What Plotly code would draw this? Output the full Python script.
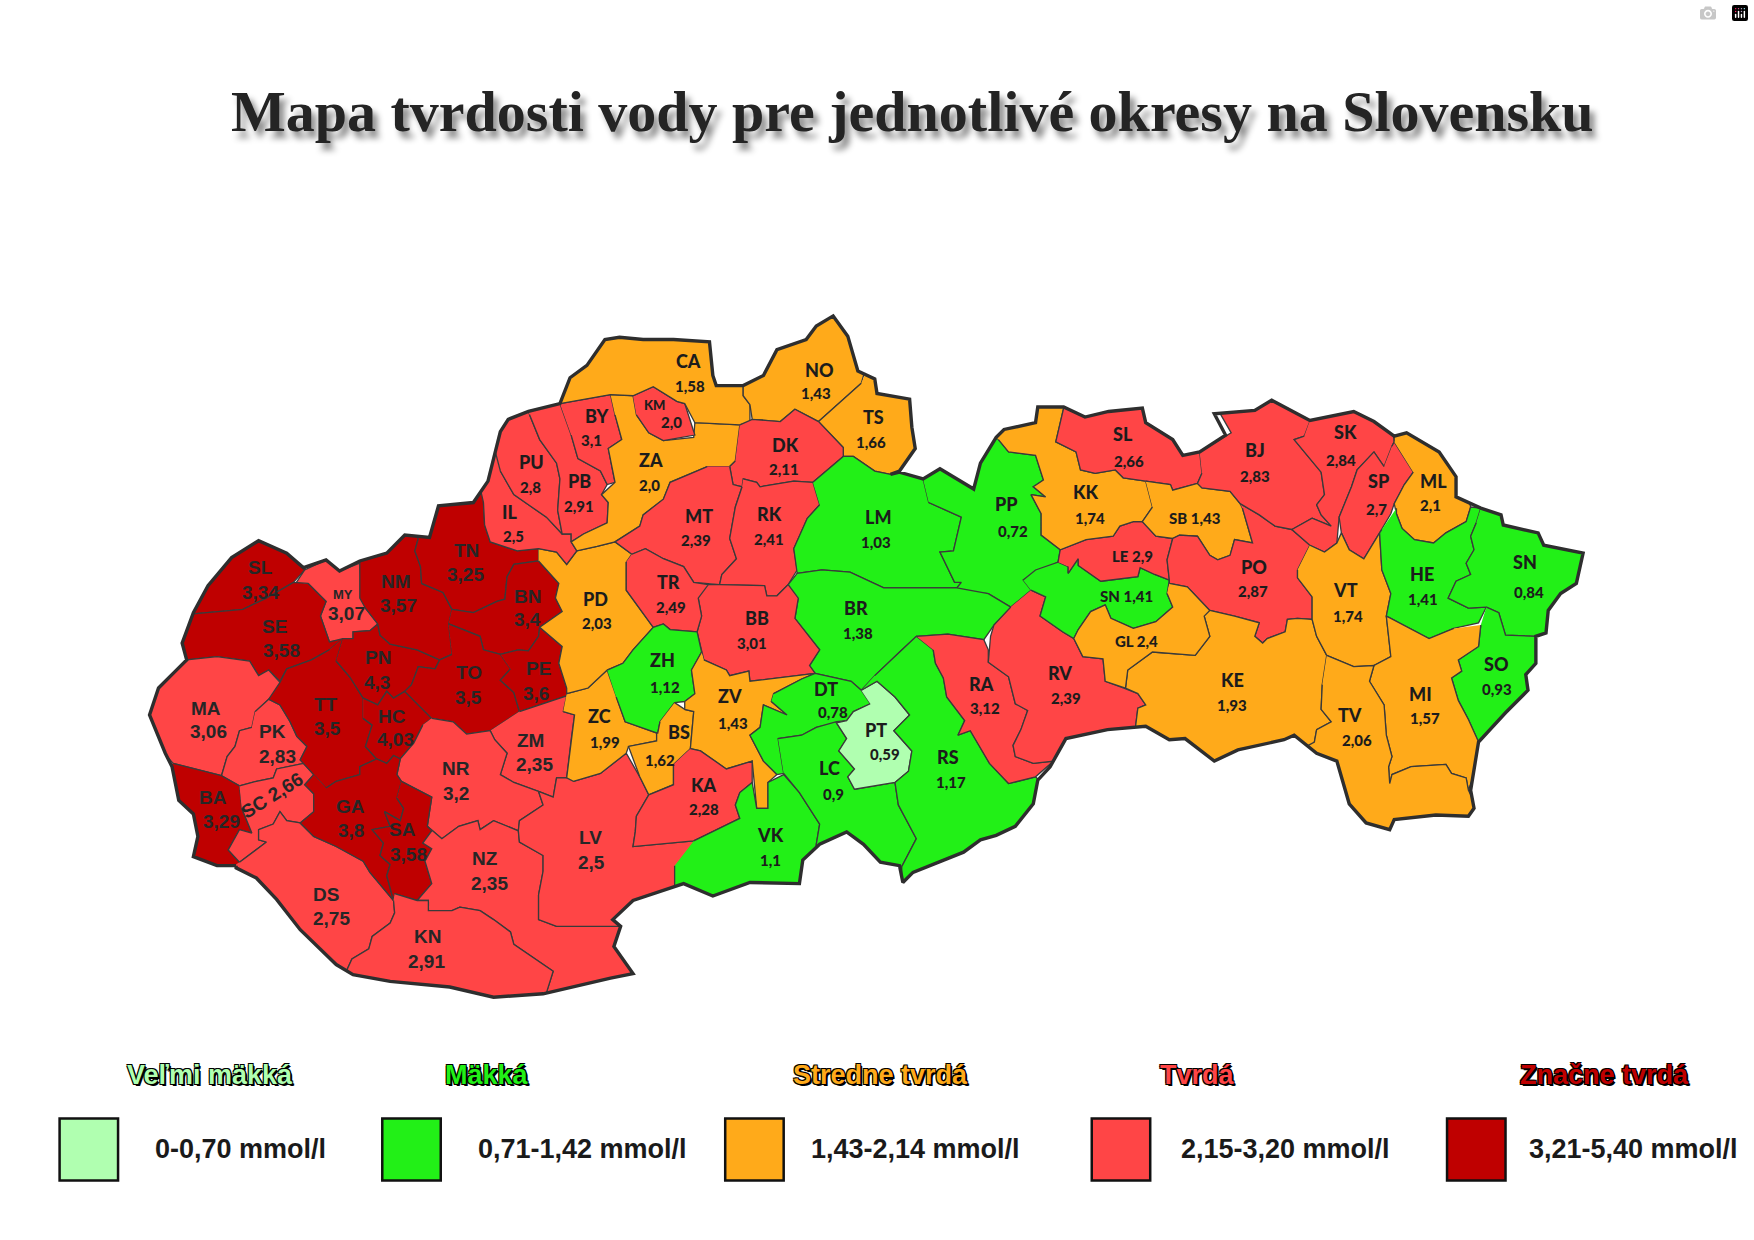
import plotly.graph_objects as go

# mapa je v suradniciach obrazka (x doprava, y dole)
W, H = 1560, 1103

title = "Mapa tvrdosti vody pre jednotlivé okresy na Slovensku"
class_names = ["Veľmi mäkká", "Mäkká", "Stredne tvrdá", "Tvrdá", "Značne tvrdá"]
class_ranges = ["0-0,70 mmol/l", "0,71-1,42 mmol/l", "1,43-2,14 mmol/l", "2,15-3,20 mmol/l", "3,21-5,40 mmol/l"]
class_colors = ["#B0FFB0", "#22F017", "#FFAA1A", "#FF4546", "#BF0000"]

ids = ["SLw", "MY", "SE", "MA", "PK", "BA", "SC", "DS", "TT", "PN", "HC", "NM", "TN", "BN", "TO", "PE",
       "ZM", "NR", "GA", "SA", "NZ", "KN", "LV", "ZC", "PD", "IL", "PU", "PB", "BY", "ZA", "KM", "CA",
       "NO", "TS", "DK", "MT", "RK", "LM", "PP", "BR", "BB", "TR", "ZH", "BS", "ZV", "KA", "VK", "DT",
       "LC", "PT", "RS", "RA", "RV", "SNw", "LE", "KK", "SLe", "SB", "PO", "KE", "GL", "BJ", "SK", "SP",
       "VT", "ML", "HE", "SNe", "SO", "MI", "TV"]
codes = ["SL", "MY", "SE", "MA", "PK", "BA", "SC", "DS", "TT", "PN", "HC", "NM", "TN", "BN", "TO", "PE",
         "ZM", "NR", "GA", "SA", "NZ", "KN", "LV", "ZC", "PD", "IL", "PU", "PB", "BY", "ZA", "KM", "CA",
         "NO", "TS", "DK", "MT", "RK", "LM", "PP", "BR", "BB", "TR", "ZH", "BS", "ZV", "KA", "VK", "DT",
         "LC", "PT", "RS", "RA", "RV", "SN", "LE", "KK", "SL", "SB", "PO", "KE", "GL", "BJ", "SK", "SP",
         "VT", "ML", "HE", "SN", "SO", "MI", "TV"]
values = ["3,34", "3,07", "3,58", "3,06", "2,83", "3,29", "2,66", "2,75", "3,5", "4,3", "4,03", "3,57", "3,25", "3,4", "3,5", "3,6",
          "2,35", "3,2", "3,8", "3,58", "2,35", "2,91", "2,5", "1,99", "2,03", "2,5", "2,8", "2,91", "3,1", "2,0", "2,0", "1,58",
          "1,43", "1,66", "2,11", "2,39", "2,41", "1,03", "0,72", "1,38", "3,01", "2,49", "1,12", "1,62", "1,43", "2,28", "1,1", "0,78",
          "0,9", "0,59", "1,17", "3,12", "2,39", "1,41", "2,9", "1,74", "2,66", "1,43", "2,87", "1,93", "2,4", "2,83", "2,84", "2,7",
          "1,74", "2,1", "1,41", "0,84", "0,93", "1,57", "2,06"]
# trieda tvrdosti podla farby na mape
classes = [4, 3, 4, 3, 3, 4, 3, 3, 4, 4, 4, 4, 4, 4, 4, 4,
           3, 3, 4, 4, 3, 3, 3, 2, 2, 3, 3, 3, 3, 2, 3, 2,
           2, 2, 3, 3, 3, 1, 1, 1, 3, 3, 1, 2, 2, 3, 1, 1,
           1, 0, 1, 3, 3, 1, 3, 2, 3, 2, 3, 2, 2, 3, 3, 3,
           2, 2, 1, 1, 1, 2, 2]

# hranice okresov, zvonku presahuju cez obrys (ten ich oreze)
outlines = {
    "SLw": [(172,546),(216,542),(237,532),(261,518),(271,507),(271,470),(200,470),(160,525)],
    "MY": [(263,519),(271,507),(290,498),(302,508),(320,501),(322,532),(325,541),(336,555),(329,561),(314,562),(314,568),(293,571),(285,548),(290,535),(274,519)],
    "SE": [(172,546),(216,542),(237,532),(261,518),(274,519),(290,535),(285,548),(293,571),(305,568),(293,578),(277,587),(255,595),(249,606),(239,596),(230,601),(222,588),(193,584),(166,587),(150,560)],
    "MA": [(166,587),(193,584),(222,588),(230,601),(239,596),(249,607),(249,612),(239,622),(227,633),(224,647),(213,650),(209,664),(202,673),(197,690),(154,679),(120,640),(150,590)],
    "PK": [(227,633),(239,622),(249,627),(258,642),(264,655),(273,664),(267,676),(270,679),(246,684),(243,692),(228,695),(213,699),(197,690),(202,673),(209,664),(213,650),(224,647)],
    "BA": [(154,679),(197,690),(213,699),(215,719),(224,741),(213,738),(203,756),(213,767),(210,780),(170,775),(150,720),(140,685)],
    "SC": [(213,699),(228,695),(243,692),(246,684),(270,679),(279,689),(271,698),(279,706),(279,722),(267,732),(255,730),(249,722),(243,733),(230,738),(230,747),(237,749),(213,767),(203,756),(213,738),(224,741),(215,719)],
    "DS": [(213,767),(237,749),(230,747),(230,738),(243,733),(249,722),(255,730),(267,732),(279,744),(299,753),(323,766),(329,776),(350,801),(351,812),(347,821),(331,833),(328,844),(313,853),(308,864),(295,875),(240,810),(200,775)],
    "TT": [(305,568),(299,588),(311,602),(323,621),(323,639),(331,645),(325,664),(335,675),(320,682),(320,689),(299,695),(290,701),(279,689),(270,679),(267,676),(273,664),(264,655),(258,642),(249,627),(239,622),(249,607),(255,595),(277,587),(293,578)],
    "PN": [(305,568),(314,568),(314,562),(329,561),(336,555),(338,565),(347,573),(371,578),(391,587),(387,595),(372,593),(366,609),(360,615),(350,621),(344,615),(336,627),(323,621),(311,602),(299,588)],
    "HC": [(323,621),(336,627),(344,615),(350,621),(360,615),(384,639),(376,645),(368,661),(356,675),(350,672),(344,679),(335,675),(325,664),(331,645),(323,639)],
    "NM": [(320,490),(320,532),(325,541),(336,555),(338,565),(347,573),(371,578),(391,587),(402,582),(399,555),(402,542),(394,527),(375,519),(374,504),(369,490),(372,479),(360,465)],
    "TN": [(372,479),(369,490),(374,504),(375,519),(394,527),(402,542),(421,545),(442,535),(449,533),(451,513),(457,502),(479,499),(479,488),(460,490),(436,482),(431,467),(430,447),(434,425),(390,435),(360,465)],
    "BN": [(402,542),(421,545),(442,535),(449,533),(451,513),(457,502),(479,499),(497,519),(494,532),(500,544),(480,558),(479,566),(470,579),(461,578),(445,582),(430,578),(427,566),(399,555)],
    "TO": [(399,555),(427,566),(430,578),(445,582),(454,595),(445,605),(457,616),(462,633),(436,650),(415,653),(403,642),(384,639),(360,615),(366,609),(372,593),(387,595),(391,587),(402,582)],
    "PE": [(445,582),(461,578),(470,579),(479,566),(480,558),(500,575),(497,590),(504,612),(504,619),(480,627),(462,633),(457,616),(445,605),(454,595)],
    "ZM": [(462,633),(480,627),(504,619),(501,633),(511,636),(508,658),(504,692),(495,692),(492,709),(479,704),(457,696),(445,689),(451,670),(440,658),(436,650)],
    "NR": [(384,639),(403,642),(415,653),(436,650),(440,658),(451,670),(445,689),(457,696),(479,704),(483,716),(462,730),(461,739),(439,730),(427,738),(425,730),(408,735),(393,746),(380,735),(384,709),(357,695),(353,689),(356,675),(368,661),(376,645)],
    "GA": [(290,701),(299,695),(320,689),(320,682),(335,675),(344,679),(350,672),(356,675),(353,689),(357,695),(353,710),(359,719),(356,730),(342,722),(347,735),(331,738),(341,750),(338,761),(347,769),(344,779),(350,801),(329,776),(323,766),(299,753),(279,744),(267,732),(279,722),(279,706),(271,698),(279,689)],
    "SA": [(357,695),(384,709),(380,735),(384,739),(376,750),(384,755),(378,766),(384,786),(371,801),(351,795),(350,801),(344,779),(347,769),(338,761),(341,750),(331,738),(347,735),(342,722),(356,730),(359,719),(353,710)],
    "NZ": [(380,735),(393,746),(408,735),(425,730),(427,738),(439,730),(461,739),(462,749),(483,761),(483,775),(479,796),(479,818),(495,824),(552,824),(546,842),(563,866),(570,880),(490,895),(486,883),(492,864),(457,840),(454,829),(439,818),(427,810),(409,807),(402,810),(381,810),(381,801),(371,801),(384,786),(378,766),(384,755),(376,750),(384,739)],
    "KN": [(351,795),(371,801),(381,801),(381,810),(402,810),(409,807),(427,810),(439,818),(454,829),(457,840),(492,864),(486,883),(490,900),(300,885),(295,875),(308,864),(313,853),(328,844),(331,833),(347,821),(351,812),(350,801)],
    "LV": [(504,692),(495,692),(492,709),(479,704),(483,716),(462,730),(461,739),(462,749),(483,761),(483,775),(479,796),(479,818),(495,824),(552,824),(575,815),(608,786),(620,758),(617,748),(563,753),(565,740),(566,726),(577,707),(569,691),(557,670),(534,688),(510,695)],
    "ZC": [(504,617),(523,612),(540,596),(548,620),(556,642),(584,652),(584,659),(559,664),(557,670),(534,688),(510,695),(504,692),(508,658),(511,636),(501,633)],
    "PD": [(479,488),(495,491),(504,502),(513,490),(531,486),(547,482),(562,493),(557,500),(557,525),(581,558),(563,578),(554,590),(540,596),(523,612),(504,617),(504,612),(497,590),(500,575),(480,558),(500,544),(494,532),(497,519),(479,499)],
    "IL": [(445,419),(457,440),(470,449),(486,460),(500,475),(508,475),(508,482),(513,490),(504,502),(495,491),(479,488),(460,490),(436,482),(431,467),(430,447),(425,425),(440,400)],
    "PU": [(470,366),(471,369),(480,391),(495,412),(498,426),(496,454),(500,475),(486,460),(470,449),(457,440),(445,419),(440,400),(435,385),(450,360)],
    "PB": [(470,366),(498,359),(508,387),(514,408),(534,419),(540,431),(535,440),(541,447),(540,465),(519,475),(508,482),(508,475),(500,475),(496,454),(498,426),(495,412),(480,391),(471,369)],
    "BY": [(498,359),(543,351),(547,369),(553,391),(541,399),(547,429),(540,431),(534,419),(514,408),(508,387)],
    "ZA": [(543,351),(563,352),(566,369),(577,385),(590,392),(617,389),(618,376),(658,378),(654,410),(649,415),(629,415),(596,429),(590,444),(572,458),(569,468),(547,482),(531,486),(513,490),(508,482),(519,475),(540,465),(541,447),(535,440),(547,429),(541,399),(553,391),(547,369)],
    "KM": [(563,352),(581,344),(602,357),(609,359),(618,387),(590,392),(577,385),(566,369)],
    "CA": [(498,359),(543,351),(563,352),(581,344),(602,357),(609,359),(618,376),(658,378),(667,375),(667,360),(661,352),(661,343),(650,300),(530,285),(485,345)],
    "NO": [(661,343),(661,352),(667,360),(669,373),(694,375),(707,364),(728,375),(766,341),(775,310),(745,265),(680,300)],
    "TS": [(766,341),(728,375),(750,398),(750,406),(759,406),(778,419),(792,422),(800,420),(825,420),(825,345),(775,320)],
    "DK": [(658,378),(669,373),(694,375),(707,364),(728,375),(750,398),(750,406),(723,429),(706,428),(676,433),(673,429),(661,426),(660,433),(652,431),(649,415),(654,410)],
    "MT": [(649,415),(652,431),(660,433),(654,451),(649,479),(655,497),(642,511),(640,520),(617,518),(608,504),(590,497),(574,488),(562,493),(547,482),(569,468),(572,458),(590,444),(596,429),(629,415)],
    "RK": [(661,426),(673,429),(676,433),(706,428),(723,429),(729,449),(718,461),(706,488),(709,507),(701,520),(691,530),(682,530),(680,521),(640,520),(642,511),(655,497),(649,479),(654,451),(660,433)],
    "LM": [(723,429),(750,406),(759,406),(778,419),(792,422),(800,420),(821,426),(826,447),(855,460),(848,490),(836,491),(849,518),(855,518),(851,523),(786,523),(756,509),(731,507),(709,510),(706,488),(718,461),(729,449)],
    "PP": [(821,426),(836,417),(866,435),(872,412),(886,389),(888,391),(897,402),(921,405),(928,427),(919,433),(930,442),(917,440),(926,457),(926,476),(943,489),(941,500),(910,516),(917,525),(899,540),(879,528),(844,525),(851,523),(855,518),(849,518),(836,491),(848,490),(855,460),(826,447)],
    "BR": [(701,520),(709,510),(731,507),(756,509),(786,523),(851,523),(879,528),(899,540),(884,556),(875,569),(843,564),(815,566),(800,580),(778,601),(766,614),(757,606),(725,599),(720,592),(729,578),(707,550),(710,532)],
    "BB": [(630,520),(640,520),(680,521),(682,530),(691,530),(701,520),(710,532),(707,550),(729,578),(720,592),(725,599),(667,606),(666,597),(649,601),(646,596),(626,587),(620,562),(624,548),(621,532)],
    "TR": [(562,493),(574,488),(590,497),(608,504),(617,518),(630,520),(621,532),(624,548),(620,562),(596,560),(590,555),(581,558),(557,525),(557,500)],
    "ZH": [(540,596),(554,590),(563,578),(581,558),(590,555),(596,560),(620,562),(624,580),(615,596),(618,617),(609,624),(600,625),(587,642),(585,652),(584,652),(556,642),(548,620)],
    "BS": [(600,625),(609,631),(617,633),(614,666),(599,680),(599,698),(577,707),(569,691),(559,664),(584,659),(584,652),(585,652),(587,642)],
    "ZV": [(626,587),(646,596),(649,601),(666,597),(667,606),(725,599),(713,604),(688,617),(686,624),(700,636),(679,627),(676,647),(667,654),(679,677),(691,689),(683,696),(683,719),(673,719),(669,677),(646,684),(623,668),(614,666),(617,633),(609,631),(609,624),(618,617),(615,596),(624,580)],
    "KA": [(614,666),(623,668),(646,684),(669,677),(669,696),(658,705),(654,716),(658,728),(617,748),(563,753),(565,740),(566,726),(577,707),(599,698),(599,680)],
    "VK": [(617,748),(658,728),(654,716),(658,705),(669,696),(673,719),(683,719),(683,696),(697,689),(711,705),(729,733),(726,751),(725,800),(600,815),(600,770)],
    "DT": [(688,617),(713,604),(725,599),(757,606),(766,614),(774,626),(759,633),(753,641),(726,647),(713,654),(692,657),(697,688),(691,689),(679,677),(667,654),(676,647),(679,627),(700,636),(686,624)],
    "LC": [(692,657),(713,654),(726,647),(744,642),(753,641),(744,643),(753,657),(746,668),(760,684),(754,691),(760,702),(796,696),(799,716),(808,733),(815,746),(802,771),(802,795),(780,785),(725,790),(726,751),(729,733),(711,705),(697,688)],
    "PT": [(766,614),(780,606),(796,620),(809,636),(795,650),(811,668),(808,686),(796,696),(760,702),(754,691),(760,684),(746,668),(753,657),(744,643),(753,641),(759,633),(774,626)],
    "RS": [(778,601),(800,580),(815,566),(830,578),(832,590),(839,603),(842,620),(858,641),(852,654),(863,650),(880,679),(883,682),(897,697),(921,691),(930,700),(920,745),(860,775),(802,795),(802,771),(815,746),(808,733),(799,716),(796,696),(808,686),(811,668),(795,650),(809,636),(796,620),(780,606),(766,614)],
    "RA": [(815,566),(843,564),(875,569),(879,578),(879,589),(897,602),(903,626),(914,632),(908,649),(901,663),(903,673),(919,679),(937,677),(921,691),(897,697),(883,682),(880,679),(863,650),(852,654),(858,641),(842,620),(839,603),(832,590),(830,578)],
    "RV": [(917,525),(930,531),(925,548),(945,562),(955,568),(963,584),(981,586),(983,606),(999,612),(1012,617),(1019,627),(1012,630),(1010,646),(1005,665),(950,670),(937,677),(919,679),(903,673),(901,663),(908,649),(914,632),(903,626),(897,602),(879,589),(881,566),(884,556),(899,540)],
    "SNw": [(910,516),(921,507),(941,500),(950,504),(950,510),(959,497),(959,503),(979,517),(1012,513),(1014,505),(1027,511),(1040,516),(1038,528),(1043,540),(1028,553),(1008,559),(988,550),(983,538),(970,544),(959,560),(955,568),(945,562),(925,548),(930,531),(917,525)],
    "LE": [(941,500),(943,489),(966,480),(990,477),(996,468),(1008,464),(1016,464),(1028,477),(1043,479),(1038,498),(1040,516),(1027,511),(1014,505),(1012,513),(979,517),(959,503),(959,497),(950,510),(950,504)],
    "KK": [(886,389),(893,382),(921,376),(923,350),(946,350),(946,363),(939,393),(957,402),(961,418),(974,421),(992,418),(999,425),(1019,428),(1025,451),(1016,464),(1008,464),(996,468),(990,477),(966,480),(943,489),(926,476),(926,457),(917,440),(930,442),(919,433),(928,427),(921,405),(897,402),(888,391)],
    "SLe": [(946,350),(1020,345),(1055,395),(1067,402),(1069,421),(1065,430),(1043,436),(1041,431),(1019,428),(999,425),(992,418),(974,421),(961,418),(957,402),(939,393),(946,363)],
    "SB": [(1019,428),(1041,431),(1043,436),(1065,430),(1069,434),(1094,437),(1103,448),(1105,452),(1114,483),(1098,480),(1094,494),(1083,498),(1076,494),(1065,477),(1049,476),(1043,479),(1028,477),(1016,464),(1025,451)],
    "PO": [(1103,448),(1120,458),(1134,468),(1149,471),(1165,485),(1154,507),(1154,514),(1167,531),(1167,551),(1154,550),(1145,551),(1143,562),(1127,568),(1123,572),(1116,566),(1120,554),(1098,548),(1076,543),(1056,522),(1040,519),(1040,516),(1038,498),(1043,479),(1049,476),(1065,477),(1076,494),(1083,498),(1094,494),(1098,480),(1114,483),(1105,452)],
    "KE": [(1076,543),(1098,548),(1120,554),(1116,566),(1123,572),(1127,568),(1143,562),(1145,551),(1154,550),(1167,551),(1171,566),(1180,583),(1176,609),(1175,631),(1184,642),(1171,649),(1169,660),(1165,690),(1075,695),(1015,665),(1010,646),(1012,630),(1019,627),(1012,617),(1001,612),(1003,596),(1025,580),(1063,583),(1076,566),(1071,548)],
    "GL": [(1040,519),(1056,522),(1076,543),(1071,548),(1076,566),(1063,583),(1025,580),(1003,596),(1001,612),(983,606),(981,586),(963,584),(955,568),(959,560),(970,544),(983,538),(988,550),(1008,559),(1028,553),(1043,540),(1038,528)],
    "BJ": [(1067,402),(1095,385),(1075,350),(1165,345),(1165,375),(1160,388),(1151,391),(1160,402),(1175,420),(1178,440),(1171,449),(1175,458),(1184,468),(1167,461),(1149,471),(1134,468),(1120,458),(1103,448),(1094,437),(1069,434),(1065,430),(1069,421)],
    "SK": [(1165,374),(1165,345),(1235,345),(1240,393),(1238,397),(1231,415),(1222,402),(1207,418),(1202,433),(1191,460),(1189,483),(1178,491),(1165,485),(1149,471),(1167,461),(1184,468),(1175,458),(1171,449),(1178,440),(1175,420),(1160,402),(1151,391),(1160,388)],
    "SP": [(1238,397),(1240,393),(1257,420),(1249,431),(1240,448),(1237,457),(1227,474),(1213,497),(1200,489),(1193,474),(1191,460),(1202,433),(1207,418),(1222,402),(1231,415)],
    "VT": [(1165,485),(1178,491),(1189,483),(1193,474),(1200,489),(1213,497),(1227,474),(1229,507),(1237,528),(1233,548),(1237,584),(1222,592),(1204,593),(1180,583),(1171,566),(1167,551),(1167,531),(1154,514),(1154,507)],
    "ML": [(1240,393),(1240,375),(1295,400),(1305,440),(1308,451),(1304,464),(1286,474),(1275,483),(1258,480),(1247,470),(1242,457),(1240,448),(1249,431),(1257,420)],
    "HE": [(1242,452),(1242,457),(1247,470),(1258,480),(1275,483),(1286,474),(1304,464),(1308,451),(1317,452),(1313,465),(1308,477),(1311,489),(1304,501),(1308,511),(1295,517),(1288,532),(1306,541),(1322,540),(1315,554),(1293,559),(1271,568),(1237,550),(1233,548),(1237,528),(1229,507),(1227,474),(1229,471)],
    "SNe": [(1317,452),(1335,450),(1420,485),(1410,530),(1385,565),(1366,566),(1339,565),(1333,545),(1322,540),(1306,541),(1288,532),(1295,517),(1308,511),(1304,501),(1311,489),(1308,477),(1313,465)],
    "SO": [(1322,540),(1333,545),(1339,565),(1366,566),(1380,590),(1360,640),(1320,665),(1315,660),(1306,640),(1297,623),(1291,603),(1300,597),(1297,587),(1315,575),(1317,556)],
    "MI": [(1317,556),(1315,575),(1297,587),(1300,597),(1291,603),(1297,623),(1306,640),(1315,660),(1320,665),(1306,703),(1304,692),(1291,688),(1286,680),(1255,682),(1238,689),(1236,697),(1235,682),(1238,673),(1233,654),(1231,627),(1218,606),(1222,592),(1237,584),(1233,548),(1237,550),(1271,568),(1293,559)],
    "TV": [(1180,583),(1204,593),(1222,592),(1218,606),(1231,627),(1233,654),(1238,673),(1235,682),(1236,697),(1238,689),(1255,682),(1286,680),(1291,688),(1304,692),(1306,703),(1320,730),(1240,750),(1200,725),(1160,665),(1169,660),(1171,649),(1184,642),(1175,631),(1176,609)],
}

# vonkajsi obrys Slovenska
border = [(210,770),(193,770),(172,762),(176,744),(172,724),(159,712),(153,682),(147,670),(133,636),(141,612),(154,599),(166,587),(162,572),(172,545),(185,521),(206,496),(230,481),(255,492),(270,505),(290,498),(302,508),(320,499),(344,492),(360,476),(382,478),(390,450),(421,447),(434,428),(445,384),(452,373),(470,366),(498,359),(507,336),(522,325),(538,302),(551,300),(572,302),(599,302),(631,304),(634,334),(637,343),(661,343),(679,334),(691,311),(717,302),(726,290),(741,281),(754,299),(763,330),(778,337),(780,350),(809,355),(811,380),(814,399),(800,419),(792,422),(800,420),(821,426),(836,417),(866,435),(872,412),(886,389),(893,382),(921,376),(923,362),(946,362),(965,371),(986,366),(1016,363),(1019,376),(1043,391),(1052,405),(1067,402),(1090,387),(1080,368),(1116,365),(1131,356),(1165,374),(1204,366),(1222,375),(1240,388),(1251,385),(1280,402),(1295,424),(1295,442),(1317,452),(1335,458),(1337,467),(1368,474),(1373,485),(1408,492),(1402,519),(1388,528),(1377,543),(1375,563),(1366,566),(1366,590),(1357,600),(1359,614),(1339,634),(1315,660),(1308,703),(1311,719),(1306,726),(1277,725),(1240,729),(1236,738),(1215,732),(1200,715),(1189,677),(1171,670),(1151,654),(1142,658),(1120,663),(1101,667),(1080,677),(1054,657),(1040,658),(1019,646),(985,649),(948,657),(934,682),(923,694),(919,715),(903,735),(886,743),(872,747),(857,758),(833,768),(812,776),(803,785),(800,770),(783,767),(768,751),(753,740),(729,751),(714,765),(711,786),(667,785),(634,797),(608,786),(563,801),(545,818),(552,824),(546,842),(563,866),(543,870),(495,881),(483,884),(439,887),(400,878),(347,873),(314,867),(299,858),(267,827),(246,800),(228,781),(210,772)]

# popisky okresov
code_pos = [(232,505),(305,529),(244,557),(183,630),(242,651),(189,709),(242,708),(290,796),(290,627),(336,585),(349,637),(352,517),(415,490),(469,531),(417,598),(479,595),
            (472,659),(406,684),(312,717),(358,738),(431,764),(380,833),(525,745),(533,637),(530,533),(453,455),(473,411),(515,428),(531,370),(579,409),(582,360),(612,321),
            (729,329),(777,371),(699,396),(622,459),(684,457),(781,460),(895,448),(761,541),(673,550),(595,518),(589,587),(604,651),(649,619),(626,698),(685,743),(735,613),
            (738,683),(779,649),(843,673),(873,608),(943,599),(1002,530),(1007,495),(966,438),(999,386),(1063,461),(1115,504),(1096,605),(1011,570),(1116,400),(1197,384),(1226,428),
            (1197,525),(1275,428),(1265,511),(1356,500),(1331,591),(1263,617),(1201,636)]
value_pos = [(232,527),(308,546),(250,579),(185,651),(247,673),(197,731),None,(295,817),(291,648),(335,607),(352,658),(354,539),(414,511),(469,551),(417,620),(477,617),
             (475,680),(406,706),(312,739),(363,760),(435,786),(379,855),(526,767),(538,660),(531,554),(457,477),(472,433),(515,450),(526,391),(578,431),(597,375),(614,343),
             (726,350),(775,393),(697,417),(619,480),(684,479),(779,482),(901,472),(763,563),(669,572),(597,540),(591,611),(587,676),(652,643),(626,720),(685,765),(741,633),
             (741,706),(787,671),(846,696),(876,630),(948,621),None,None,(969,461),(1004,410),None,(1114,526),(1096,627),None,(1116,423),(1193,409),(1224,453),
             (1199,548),(1272,449),(1266,533),(1360,527),(1331,613),(1267,639),(1207,658)]
arial_ids = ["SLw", "MY", "SE", "MA", "PK", "BA", "SC", "DS", "TT", "PN", "HC", "NM", "TN", "BN", "TO", "PE", "ZM", "NR", "GA", "SA", "NZ", "KN", "LV"]

swatch_left = [53, 340, 645, 971, 1287]
name_x = [187, 433, 783, 1065, 1427]
range_x = [214, 518, 814, 1143, 1453]

fig = go.Figure()

for i, d in enumerate(ids):
    pts = outlines[d]
    fig.add_trace(go.Scatter(x=[p[0] for p in pts], y=[p[1] for p in pts], mode="lines", fill="toself",
                             fillcolor=class_colors[classes[i]], line=dict(color="#3A3A3A", width=1.3),
                             hoverinfo="skip", showlegend=False))

# biela maska okolo krajiny, potom hruby obrys
mask_x = [-10, -10, W + 10, W + 10, -10, None] + [p[0] for p in border] + [border[0][0]]
mask_y = [-10, H + 10, H + 10, -10, -10, None] + [p[1] for p in border] + [border[0][1]]
fig.add_trace(go.Scatter(x=mask_x, y=mask_y, mode="lines", fill="toself", fillcolor="white",
                         line=dict(width=0), hoverinfo="skip", showlegend=False))
fig.add_trace(go.Scatter(x=[p[0] for p in border] + [border[0][0]], y=[p[1] for p in border] + [border[0][1]],
                         mode="lines", line=dict(color="#2E2E2E", width=3.4), hoverinfo="skip", showlegend=False))

for i, d in enumerate(ids):
    if d in arial_ids:
        font = dict(family="Liberation Sans", size=19, color="#262626", weight=700)
        small = font
    else:
        font = dict(family="Lato", size=18, color="#1C1C1C", weight=900)
        small = dict(family="Lato", size=15, color="#1C1C1C", weight=900)
    x, y = code_pos[i]
    if d == "SC":
        fig.add_annotation(x=x, y=y, text=codes[i] + " " + values[i], showarrow=False, textangle=-32, font=font)
    elif value_pos[i] is None:
        fig.add_annotation(x=x, y=y, text=codes[i] + " " + values[i], showarrow=False, font=small)
    else:
        if d in ("KM", "MY"):
            fig.add_annotation(x=x, y=y, text=codes[i], showarrow=False, font=dict(small, size=13))
        else:
            fig.add_annotation(x=x, y=y, text=codes[i], showarrow=False, font=font)
        fig.add_annotation(x=value_pos[i][0], y=value_pos[i][1], text=values[i], showarrow=False, font=small)

fig.add_annotation(x=812, y=99, text=title, showarrow=False,
                   font=dict(family="Liberation Sans Narrow", size=58, color="#242424", weight=700,
                             shadow="5px 7px 6px #8A8A8A"))

outline_txt = "1px 1px 0 #000,-1px -1px 0 #000,1px -1px 0 #000,-1px 1px 0 #000,2px 2px 0 #000"
for i in range(5):
    fig.add_shape(type="rect", x0=swatch_left[i], x1=swatch_left[i] + 52, y0=995, y1=1050,
                  fillcolor=class_colors[i], line=dict(color="#111111", width=2.5))
    fig.add_annotation(x=name_x[i], y=956, text=class_names[i], showarrow=False,
                       font=dict(family="Liberation Sans", size=27, color=class_colors[i], weight=700, shadow=outline_txt))
    fig.add_annotation(x=range_x[i], y=1022, text=class_ranges[i], showarrow=False,
                       font=dict(family="Liberation Sans", size=27, color="#1A1A1A", weight=700))

fig.update_xaxes(range=[0, W], visible=False, fixedrange=True)
fig.update_yaxes(range=[H, 0], visible=False, fixedrange=True)
fig.update_layout(width=1754, height=1240, margin=dict(l=0, r=0, t=0, b=0),
                  paper_bgcolor="white", plot_bgcolor="white", showlegend=False)

fig.write_html("out.html", post_script="document.body.style.margin='0';")
